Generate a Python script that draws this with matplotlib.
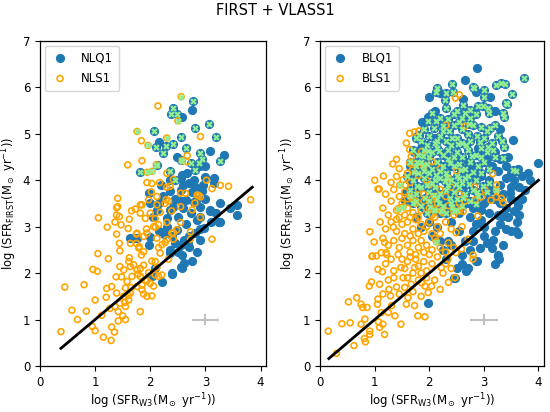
import numpy as np
import matplotlib
matplotlib.use("Agg")
import matplotlib.pyplot as plt

# ---------------- data (read/estimated from the reference) ----------------
title = "FIRST + VLASS1"
left_labels = ["NLQ1", "NLS1"]
right_labels = ["BLQ1", "BLS1"]

# Left panel: NLQ1 (radio-quiet part, plain blue)
nlq1_pts = [
    (2.76,5.52),(2.58,5.37),(3.09,4.62),(3.33,4.55),(3.15,3.94),(2.15,4.83),(2.48,4.51),(2.91,4.30),(3.00,4.08),(2.58,4.12),
    (2.55,4.04),(2.67,4.15),(3.00,4.30),(3.15,4.05),(2.36,3.76),(2.55,3.79),(2.70,3.94),(2.82,3.86),(2.94,3.76),(2.64,3.58),
    (2.79,3.54),(2.91,3.43),(3.09,3.36),(3.27,3.50),(3.58,3.47),(3.24,3.11),(2.73,3.29),(2.85,3.15),(2.97,2.97),(2.82,2.86),
    (2.61,2.72),(2.70,2.57),(2.49,2.93),(2.30,3.18),(2.12,3.36),(2.00,3.50),(2.24,3.65),(2.42,3.43),(2.55,2.61),(2.61,2.21),
    (2.76,2.25),(2.36,2.43),(1.76,2.75),(1.97,3.72),(2.55,2.14),(2.39,2.01),(2.21,1.80),(2.09,2.10),(3.27,3.09),(2.91,2.72),
    (2.68,2.64),(1.64,2.75),(1.97,2.61),(3.58,3.25),(3.24,3.09),(3.09,3.34),(2.58,2.39),(2.40,1.98),(2.57,2.12),(2.03,1.93),
    (1.70,2.75),(2.00,2.77),(2.20,3.90),(2.35,4.00),(2.45,3.60),(2.60,3.40),(2.50,3.20),(2.65,3.05),(2.40,2.80),(2.30,3.00),
    (2.90,3.20),(3.00,3.60),(2.75,3.75),(2.85,3.60),(2.15,3.50),(2.05,3.20),(2.25,2.85),(2.45,2.65),(2.70,2.80),(2.90,2.95),
    (3.10,3.10),(3.20,3.30),(2.55,3.55),(2.35,3.35),(2.60,3.90),(2.80,4.00),(2.95,3.90),(2.35,2.50),(2.50,2.45),(2.85,2.45),
    (3.45,3.40),(2.15,2.90),
]
# Left panel: NLQ1 radio-loud (blue + green cross)
nlq1_rl_pts = [
    (2.78,5.71),(2.42,5.55),(2.38,5.42),(2.49,5.42),(2.07,5.05),(2.82,5.12),(3.06,5.21),(3.20,4.93),(2.55,4.94),(2.11,4.71),
    (2.29,4.74),(2.42,4.78),(2.24,4.58),(2.65,4.69),(2.91,4.58),(2.55,4.44),(2.73,4.37),(2.93,4.45),(3.27,4.42),(2.81,4.22),
    (2.45,4.01),(2.36,4.19),(1.81,4.17),(2.13,4.32),(2.88,4.37),
]
# Left panel: NLS1 (open orange)
nls1_pts = [
    (0.38,0.74),(0.45,1.70),(0.58,1.20),(0.68,1.00),(0.80,1.75),(0.84,1.18),(0.96,2.08),(1.04,2.04),(0.95,0.85),(1.00,0.76),
    (1.00,1.42),(1.06,3.19),(1.05,2.42),(1.22,2.99),(1.24,2.31),(1.21,1.67),(1.20,1.48),(1.12,1.09),(1.15,0.62),(1.29,0.55),
    (1.39,3.41),(1.36,3.10),(1.39,2.84),(1.38,1.92),(1.44,2.64),(1.45,2.48),(1.48,1.92),(1.30,0.84),(1.35,0.73),(1.42,0.97),
    (1.50,1.08),(1.55,1.00),(1.54,1.37),(1.60,1.52),(1.65,1.69),(1.62,2.33),(1.60,2.96),(1.66,3.34),(1.62,3.16),(1.75,2.84),
    (1.75,2.64),(1.80,2.57),(1.84,2.39),(1.88,2.17),(1.78,1.98),(1.82,1.17),(1.85,1.74),(1.94,1.83),(1.88,1.55),(2.03,1.51),
    (2.06,1.72),(1.97,2.01),(2.03,2.26),(2.12,2.12),(2.15,2.55),(2.12,2.75),(1.93,2.95),(2.09,2.99),(2.09,3.17),(2.18,3.31),
    (2.30,3.09),(2.27,2.66),(2.33,2.30),(2.42,2.73),(2.42,2.87),(2.73,2.89),(2.91,3.20),(3.12,2.73),(2.73,2.73),(2.76,3.36),
    (2.39,3.34),(2.55,3.09),(1.41,3.43),(1.44,3.22),(1.47,3.04),(1.45,2.14),(1.52,2.07),(1.30,1.71),(1.39,1.57),(1.61,2.25),
    (1.64,2.14),(1.70,2.18),(1.76,2.07),(1.82,1.93),(1.91,1.85),(1.67,1.93),(1.58,1.82),(1.55,1.68),(1.64,1.57),(1.52,1.50),
    (1.61,1.42),(1.45,1.35),(1.36,1.28),(1.27,1.24),(1.42,1.17),(1.55,1.28),(1.76,1.71),(1.94,1.50),(2.00,1.78),(1.85,1.64),
    (2.09,1.96),(2.15,1.93),(1.82,2.10),(1.94,2.86),(2.06,3.00),(2.15,3.04),(2.00,3.29),(1.82,3.29),(1.91,3.18),(1.82,3.47),
    (2.12,3.47),(2.27,3.50),(1.76,2.86),(1.88,2.79),(1.64,2.64),(1.79,2.54),(1.88,2.46),(2.21,2.61),(2.30,2.72),(2.39,2.86),
    (2.48,2.93),(2.18,2.43),(2.09,2.25),(2.21,1.96),(2.14,5.60),(2.91,4.94),(1.84,4.85),(1.59,4.33),(1.85,4.42),(2.67,4.53),
    (2.66,4.40),(3.02,4.00),(3.12,3.82),(3.27,3.89),(3.42,3.87),(3.82,3.58),(1.41,3.61),(1.94,3.95),(2.03,3.93),(2.17,3.95),
    (2.30,3.85),(2.55,3.72),(2.64,3.72),(2.85,3.68),(2.91,3.64),(2.81,3.51),(2.33,3.55),(2.36,3.87),(2.42,4.02),(1.39,3.25),
    (1.73,3.38),(1.85,3.47),(1.97,3.58),(2.02,3.75),(2.12,3.65),(2.29,3.58),(2.88,3.67),(2.55,3.43),(2.30,4.15),
]
# Left panel: NLS1 radio-loud (orange ring + green cross)
nls1_rl_pts = [
    (2.56,5.80),(2.50,5.28),(1.76,5.05),(1.96,4.75),(2.30,4.91),(1.94,4.17),(2.11,4.33),(2.58,4.42),(2.03,4.19),
]

# Right panel: BLQ1 (plain blue)
blq1_pts = [
    (2.87,6.41),(2.65,6.16),(2.00,5.79),(3.12,5.80),(1.86,5.26),(1.97,5.37),(3.53,4.87),(4.00,4.37),(2.19,5.87),(2.62,5.75),
    (2.85,5.90),(3.20,5.50),(3.30,5.10),(2.10,5.50),(1.78,4.95),(1.72,4.60),(1.65,4.30),(1.62,4.00),(1.58,3.75),(1.55,3.55),
    (3.45,4.50),(3.62,4.25),(3.70,4.10),(3.55,4.00),(3.65,3.85),(3.75,3.80),(3.60,3.55),(3.40,3.40),(3.62,3.45),(3.65,3.25),
    (3.62,2.85),(3.28,2.30),(3.26,2.40),(3.15,2.55),(3.05,2.65),(3.20,2.90),(2.92,2.55),(2.70,2.10),(2.45,1.90),(2.50,2.10),
    (1.97,1.35),(2.88,2.25),(2.25,2.50),(2.60,2.40),(3.10,3.30),(3.35,3.70),(3.50,3.60),(3.30,3.05),(3.45,3.20),(3.20,3.60),
    (3.00,3.00),(2.80,2.90),(2.75,3.20),(2.95,3.35),(3.10,4.00),(3.25,4.20),(3.40,4.30),(3.50,4.15),(3.15,3.80),(2.90,3.70),
    (2.70,3.50),(2.55,3.30),(2.40,3.10),(2.55,2.90),(2.35,2.70),(2.65,2.70),(2.85,3.05),(3.00,3.50),(3.30,3.90),(3.55,4.20),
    (3.80,4.15),(3.05,4.45),(2.80,4.30),(2.60,4.10),(2.45,3.90),(2.30,3.60),(2.20,3.30),(2.15,3.00),(2.05,2.80),(2.30,2.30),
    (2.40,2.60),(2.75,2.50),(3.00,2.80),(3.40,2.95),(3.25,3.25),(3.60,3.10),(3.50,3.85),(3.30,3.50),(3.10,3.60),(2.95,3.15),
    (2.80,3.40),(2.65,3.90),(2.50,3.60),(2.35,3.35),(2.10,3.60),(1.90,3.40),(1.75,3.20),(1.85,3.00),(2.00,3.10),(2.20,2.70),
    (2.60,2.20),(2.80,2.70),(3.35,2.60),(3.20,2.20),(3.50,2.90),(3.70,3.60),(3.85,4.00),(3.40,4.05),(3.15,4.30),(2.95,4.10),
    (2.70,4.40),(2.90,4.70),(3.20,4.60),(3.30,4.45),(2.55,4.50),(2.40,4.30),(2.20,4.10),(2.00,3.80),(1.80,3.60),(1.95,4.30),
    (1.85,4.70),(2.10,4.90),(2.68,2.05),(2.86,2.25),(3.25,2.36),(3.16,2.72),(3.59,2.90),(3.35,3.22),(3.56,3.33),(3.47,3.72),
    (2.47,1.90),
]
# Right panel: BLQ1 radio-loud (blue + green cross)
blq1_rl_pts = [
    (3.73,6.21),(3.39,6.07),(3.22,6.05),(2.82,5.99),(3.01,5.95),(3.00,5.80),(2.42,6.08),(2.15,5.98),(2.31,5.88),(3.52,5.85),
    (3.43,5.64),(3.07,5.55),(3.37,5.37),(3.37,4.72),(3.35,4.47),(3.53,4.22),(3.59,4.19),(2.12,5.91),(2.43,5.91),(2.80,6.00),
    (3.32,6.09),(3.41,5.66),(3.35,5.44),(3.33,4.85),(3.16,4.66),(2.98,5.59),(2.74,5.52),(2.59,5.34),(2.28,5.73),(1.98,5.27),
    (2.13,5.27),(2.25,5.16),(2.37,5.05),(2.05,5.45),(2.30,5.55),(2.50,5.50),(2.65,5.45),(2.90,5.60),(3.10,5.45),(2.20,5.35),
    (2.75,5.35),(2.55,5.25),(2.45,5.20),(2.60,5.10),(2.80,5.20),(2.95,5.15),(3.05,5.05),(3.20,5.20),(2.70,5.00),(2.88,4.95),
    (1.90,5.10),(1.75,4.90),(1.85,4.85),(2.00,4.95),(2.10,4.80),(2.20,4.95),(2.30,4.85),(2.50,4.90),(2.60,4.80),(2.75,4.85),
    (3.00,4.90),(3.15,4.80),(3.25,4.95),(2.40,4.75),(1.95,4.75),(1.70,4.65),(1.80,4.55),(1.90,4.65),(2.05,4.60),(2.15,4.70),
    (2.25,4.55),(2.35,4.65),(2.50,4.60),(2.60,4.50),(2.70,4.65),(2.85,4.55),(2.95,4.70),(3.05,4.60),(3.20,4.50),(2.45,4.50),
    (2.00,4.50),(1.65,4.40),(1.75,4.30),(1.85,4.40),(1.95,4.35),(2.05,4.25),(2.15,4.40),(2.25,4.30),(2.35,4.45),(2.45,4.30),
    (2.55,4.35),(2.65,4.25),(2.75,4.40),(2.90,4.30),(3.00,4.40),(3.10,4.25),(2.20,4.20),(1.90,4.20),(1.60,4.10),(1.70,4.00),
    (1.80,4.15),(1.90,4.05),(2.00,4.15),(2.10,4.00),(2.20,4.05),(2.30,4.15),(2.40,4.00),(2.50,4.10),(2.60,3.95),(2.70,4.10),
    (2.85,4.00),(2.95,4.15),(3.10,3.95),(2.35,3.90),(1.95,3.90),(1.65,3.80),(1.75,3.70),(1.85,3.85),(2.00,3.75),(2.10,3.85),
    (2.20,3.70),(2.30,3.80),(2.45,3.75),(2.55,3.85),(2.65,3.70),(2.80,3.80),(2.90,3.65),(3.05,3.75),(2.15,3.60),(2.50,3.60),
    (1.70,3.50),(1.85,3.45),(2.00,3.55),(2.25,3.45),(2.40,3.50),(2.60,3.45),(2.75,3.55),(1.95,3.30),(2.30,3.30),(2.10,3.35),
    (2.50,3.35),
    (1.82,4.98),(2.08,5.12),(2.35,5.32),(2.62,5.62),(2.85,5.42),(2.42,4.92),(2.68,4.75),(2.92,4.82),(2.18,4.62),(2.38,4.38),
    (2.58,4.22),(2.80,4.18),(2.12,4.12),(1.88,4.30),(1.72,4.18),(2.28,3.98),(2.48,3.92),(2.72,3.92),(2.98,3.88),(1.92,3.62),
    (2.08,3.68),(2.38,3.62),(2.62,3.62),(2.85,3.48),(2.18,3.52),(1.78,3.88),(1.98,4.62),(2.52,4.78),(2.78,4.52),(3.08,4.72),
    (2.32,4.08),(2.05,3.95),(2.65,4.05),(2.15,4.85),(1.88,4.52),(2.25,5.05),(2.72,5.22),(3.12,5.12),(2.45,5.42),(2.55,4.05),
    (2.88,3.75),(2.42,3.42),(2.02,3.42),(1.78,4.40),(2.95,4.50),
]
# Right panel: BLS1 (open orange)
bls1_pts = [
    (0.15,0.75),(0.30,0.27),(0.40,0.91),(0.55,0.93),(0.62,0.44),(0.52,1.38),(0.67,1.47),(0.75,1.33),(0.78,1.26),(0.86,1.26),
    (0.75,0.90),(0.82,1.01),(0.81,0.59),(0.83,0.52),(0.91,0.75),(0.91,0.68),(0.90,1.72),(0.94,1.81),(0.96,2.37),(1.03,2.37),
    (0.91,2.89),(0.99,2.67),(1.06,1.44),(1.05,1.33),(1.09,1.76),(1.15,1.55),(1.12,1.15),(1.07,0.95),(1.09,0.83),(1.15,0.90),
    (1.18,0.68),(1.06,2.08),(1.14,2.03),(1.12,2.44),(1.18,2.66),(1.21,2.44),(1.26,1.65),(1.29,1.51),(1.25,1.15),(1.31,1.30),
    (1.37,1.08),(1.48,0.90),(1.34,2.99),(1.40,3.16),(1.43,2.40),(1.48,2.12),(1.52,1.90),(1.55,1.69),(1.61,1.47),(1.58,1.33),
    (1.67,1.76),(1.73,2.12),(1.79,1.08),(1.92,1.06),(1.73,1.30),(1.86,1.79),(1.92,1.72),(1.98,1.58),(2.04,1.72),(2.47,1.90),
    (2.22,2.12),(2.34,2.30),(2.49,2.44),(2.59,2.52),(2.71,2.73),(2.80,2.30),(2.89,3.23),(2.49,2.87),(2.55,3.34),(1.06,3.81),
    (0.95,2.36),(1.22,2.40),(1.45,3.20),(2.84,3.58),(3.35,3.52),(2.62,3.33),(3.23,3.90),(2.80,2.39),(1.00,4.00),(1.08,3.81),
    (1.33,4.35),(1.40,4.45),(1.16,4.09),(1.58,4.80),(1.64,5.01),(1.73,5.04),(1.81,5.06),(1.86,4.62),(1.64,4.66),(1.67,4.51),
    (1.64,4.37),(1.69,4.22),(1.60,4.15),(1.52,4.01),(1.56,3.90),(1.40,4.08),(2.48,5.77),(2.55,5.84),(2.65,5.16),(2.31,5.19),
    (3.16,4.14),(2.83,3.86),(3.02,3.79),(2.95,3.64),(3.23,3.64),(3.13,3.57),(3.32,3.61),
    (1.75,4.35),(1.90,4.30),(2.05,4.40),(2.20,4.25),(1.80,4.10),(1.95,4.00),(2.35,4.05),(1.45,4.25),(1.30,3.95),(2.50,4.20),
    (1.20,3.70),(1.35,3.80),(1.45,3.65),(1.55,3.75),(1.65,3.95),(1.70,3.60),(1.80,3.80),(1.90,3.70),(2.00,3.90),(2.10,3.65),
    (2.20,3.80),(2.30,3.65),(2.40,3.85),(2.55,3.70),(2.65,3.55),(1.60,3.60),(2.05,3.60),
    (1.15,3.40),(1.25,3.25),(1.30,3.55),(1.40,3.35),(1.50,3.50),(1.55,3.25),(1.60,3.40),(1.70,3.30),(1.75,3.50),(1.85,3.35),
    (1.90,3.55),(2.00,3.40),(2.05,3.25),(2.15,3.50),(2.25,3.30),(2.35,3.45),(2.45,3.25),(2.55,3.50),(1.80,3.20),(2.10,3.20),
    (1.65,3.20),
    (1.10,3.10),(1.20,2.95),(1.30,3.10),(1.40,2.90),(1.50,3.05),(1.55,2.85),(1.60,3.10),(1.70,2.95),(1.75,3.15),(1.80,2.85),
    (1.85,3.05),(1.90,2.90),(2.00,3.10),(2.05,2.85),(2.15,3.00),(2.20,2.85),(2.30,3.10),(2.40,2.95),(2.60,3.00),(1.95,3.00),
    (1.65,2.80),
    (1.15,2.75),(1.25,2.60),(1.35,2.70),(1.45,2.55),(1.50,2.75),(1.60,2.60),(1.65,2.45),(1.70,2.70),(1.80,2.55),(1.85,2.70),
    (1.90,2.45),(1.95,2.60),(2.05,2.50),(2.10,2.75),(2.20,2.55),(2.30,2.45),(2.35,2.65),(2.45,2.55),(1.75,2.40),(2.00,2.40),
    (1.20,2.20),(1.30,2.30),(1.35,2.05),(1.50,2.30),(1.55,2.10),(1.60,2.25),(1.70,2.00),(1.75,2.30),(1.80,2.15),(1.90,2.25),
    (1.95,2.05),(2.05,2.20),(2.15,2.35),(2.25,2.00),(2.30,2.20),(2.40,2.10),(1.65,2.35),(1.85,2.00),
    (1.25,1.85),(1.40,1.70),(1.45,1.55),(1.60,1.90),(1.70,1.60),(1.80,1.85),(1.85,1.50),(1.95,1.90),(2.10,1.85),(2.20,1.65),
    (2.35,1.80),(1.35,1.90),
]
# Right panel: BLS1 radio-loud (orange ring + green cross)
bls1_rl_pts = [
    (1.46,3.90),(2.13,2.68),(1.52,3.43),(1.43,3.39),(2.09,3.36),(2.22,3.34),(2.45,3.34),(3.23,3.79),(1.65,3.65),(1.75,3.55),
]

# error cross (typical uncertainty)
err_x, err_y = 3.0, 1.0
err_dx, err_dy = 0.25, 0.12
# one-to-one relation lines
left_line_x = [0.38, 3.85]
right_line_x = [0.16, 4.0]

xticks = [0, 1, 2, 3, 4]
yticks = [0, 1, 2, 3, 4, 5, 6, 7]

# ---------------- style ----------------
BLUE = '#1f77b4'
ORANGE = '#FFA500'
GREEN = '#90EE90'
GREY = '#c0c0c0'

plt.rcParams['font.family'] = ['DejaVu Sans']
plt.rcParams['mathtext.fontset'] = 'dejavusans'

fig = plt.figure(figsize=(5.5, 4.12), dpi=100)
ax1 = fig.add_axes([0.0727, 0.1117, 0.411, 0.789])
ax2 = fig.add_axes([0.582, 0.1117, 0.407, 0.789])

def xy(pts):
    a = np.array(pts, dtype=float)
    return a[:, 0], a[:, 1]

def panel(ax, q, q_rl, s, s_rl, labels, line_x, xmax, ylab_x):
    qx, qy = xy(q + q_rl)
    sx, sy = xy(s + s_rl)
    rqx, rqy = xy(q_rl)
    rsx, rsy = xy(s_rl)
    ax.scatter(qx, qy, s=44, color=BLUE, linewidths=0, label=labels[0], zorder=2)
    ax.scatter(sx, sy, s=18, facecolors='none', edgecolors=ORANGE, linewidths=1.2,
               label=labels[1], zorder=3)
    ax.scatter(rqx, rqy, s=22, marker='X', color=GREEN, linewidths=0, zorder=4)
    ax.scatter(rsx, rsy, s=22, marker='X', color=GREEN, linewidths=0, zorder=4)
    lx = np.array(line_x)
    ax.plot(lx, lx, color='black', lw=2, zorder=5)
    ax.errorbar([err_x], [err_y], xerr=[err_dx], yerr=[err_dy], fmt='none',
                ecolor=GREY, elinewidth=1.5, capsize=0, zorder=1)
    ax.set_xlim(0, xmax)
    ax.set_ylim(0, 7)
    ax.set_xticks(xticks)
    ax.set_yticks(yticks)
    ax.tick_params(labelsize=8.5, length=3.5, width=0.8)
    ax.set_xlabel(r'$\log\,(\mathrm{SFR_{W3}(M_\odot\ yr^{-1})})$', fontsize=8.5, labelpad=2)
    ax.set_ylabel(r'$\log\,(\mathrm{SFR_{FIRST}(M_\odot\ yr^{-1})})$', fontsize=8.3)
    ax.yaxis.set_label_coords(ylab_x, 0.5)
    ax.legend(loc='upper left', fontsize=8.5, borderpad=0.5, handletextpad=1.0,
              labelspacing=0.6, handlelength=1.6, borderaxespad=0.4)
    for sp in ax.spines.values():
        sp.set_linewidth(0.9)

panel(ax1, nlq1_pts, nlq1_rl_pts, nls1_pts, nls1_rl_pts, left_labels, left_line_x, 4.1, -0.095)
panel(ax2, blq1_pts, blq1_rl_pts, bls1_pts, bls1_rl_pts, right_labels, right_line_x, 4.1, -0.10)

fig.text(0.5, 0.992, title, ha='center', va='top', fontsize=10.5)

fig.savefig('out.png', dpi=100)
